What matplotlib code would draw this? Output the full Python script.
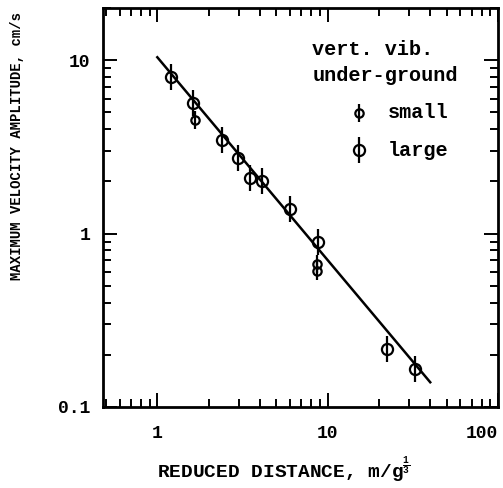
import matplotlib
matplotlib.use("Agg")
import matplotlib.pyplot as plt
import numpy as np

# %% Data
large_x = [1.21, 1.62, 2.4, 2.98, 3.5, 4.11, 6.0, 8.8, 22.4, 32.7]
large_y = [8.0, 5.7, 3.47, 2.73, 2.09, 2.0, 1.38, 0.90, 0.217, 0.166]
small_x = [1.67, 8.7, 8.7]
small_y = [4.53, 0.67, 0.61]

# fitted line  v = a * d^b
fit_a = 10.4
fit_b = -1.17
fit_x = [1.0, 40.0]

xticks = [1, 10, 100]
xticklabels = ["1", "10", "100"]
yticks = [0.1, 1, 10]
yticklabels = ["0.1", "1", "10"]

font = "Liberation Mono"
plt.rcParams["font.family"] = [font, "DejaVu Sans Mono"]
plt.rcParams["font.weight"] = "bold"
plt.rcParams["mathtext.fontset"] = "custom"
plt.rcParams["mathtext.rm"] = font
plt.rcParams["mathtext.bf"] = font + ":bold"

fig = plt.figure(figsize=(5.03, 4.88), dpi=100)
ax = fig.add_axes([0.2048, 0.166, 0.7853, 0.8176])
ax.set_xscale("log")
ax.set_yscale("log")
ax.set_xlim(0.48, 100)
ax.set_ylim(0.1, 20)

# %% fit line
fx = np.array(fit_x)
ax.plot(fx, fit_a * fx ** fit_b, color="black", lw=1.8, zorder=2)

# %% points: open circle + vertical bar
def phi(x, y, size, bar, **kw):
    ax.plot(x, y, ls="none", marker="|", ms=bar, mew=1.6, color="black", zorder=3, **kw)
    ax.plot(x, y, ls="none", marker="o", ms=size, mew=1.6, mfc="none", mec="black", zorder=3, **kw)

phi(large_x, large_y, 8, 19)
phi(small_x, small_y, 6, 13)

# legend drawn by hand
tr = ax.transAxes
ax.text(0.53, 0.895, "vert. vib.", transform=tr, fontsize=14.5, va="center", ha="left")
ax.text(0.53, 0.832, "under-ground", transform=tr, fontsize=14.5, va="center", ha="left")
phi([0.647], [0.737], 6, 13, transform=tr)
phi([0.647], [0.644], 8, 19, transform=tr)
ax.text(0.72, 0.737, "small", transform=tr, fontsize=14.5, va="center", ha="left")
ax.text(0.72, 0.644, "large", transform=tr, fontsize=14.5, va="center", ha="left")

# %% axes styling
ax.set_xticks(xticks)
ax.set_xticklabels(xticklabels)
ax.get_xticklabels()[-1].set_horizontalalignment("right")
ax.set_yticks(yticks)
ax.set_yticklabels(yticklabels)
ax.tick_params(which="both", direction="in", top=True, right=True, width=1.4)
ax.tick_params(which="major", length=10)
ax.tick_params(which="minor", length=5.5)
ax.tick_params(axis="x", which="major", labelsize=13, pad=13)
ax.tick_params(axis="y", which="major", labelsize=13, pad=9)
for s in ax.spines.values():
    s.set_linewidth(2)

fig.text(0.034, 0.70, "MAXIMUM VELOCITY AMPLITUDE, cm/s", rotation=90,
         fontsize=10, ha="center", va="center")
fig.text(0.565, 0.037, r"REDUCED DISTANCE, m/g$^{\frac{1}{3}}$",
         fontsize=14, ha="center", va="center")

fig.savefig("out.png", dpi=100)
